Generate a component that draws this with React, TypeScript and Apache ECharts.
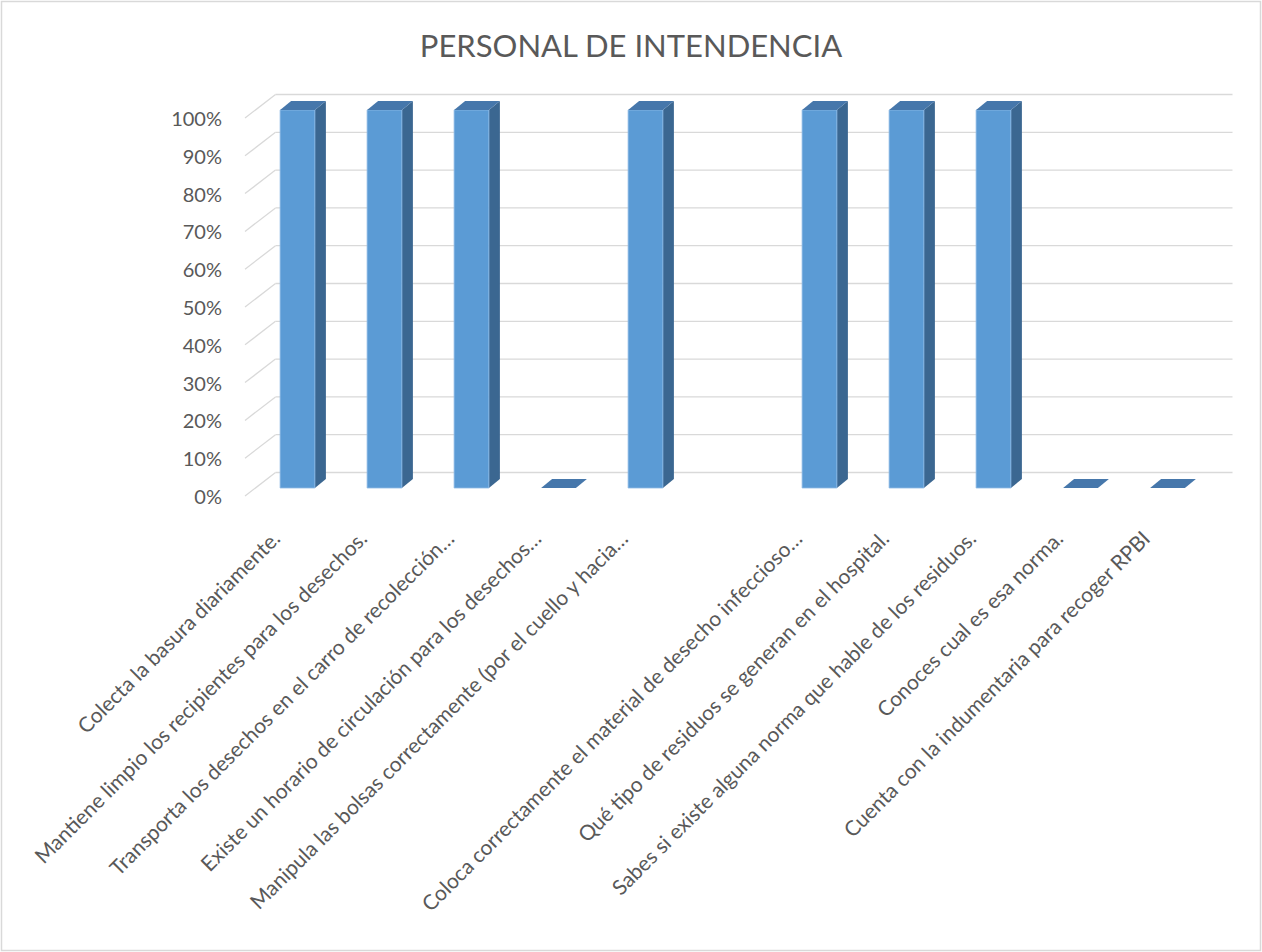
import React, { useEffect, useRef } from 'react';
import * as echarts from 'echarts';

const TITLE = 'PERSONAL DE INTENDENCIA';

const categories: string[] = [
  'Colecta la basura diariamente.',
  'Mantiene limpio los recipientes para los desechos.',
  'Transporta los desechos en el carro de recolección…',
  'Existe un horario de circulación para los desechos…',
  'Manipula las bolsas correctamente (por el cuello y hacia…',
  '',
  'Coloca correctamente el material de desecho infeccioso…',
  'Qué tipo de residuos se generan en el hospital.',
  'Sabes si existe alguna norma que hable de los residuos.',
  'Conoces cual es esa norma.',
  'Cuenta con la indumentaria para recoger RPBI',
];

const percentages: (number | null)[] = [100, 100, 100, 0, 100, null, 100, 100, 100, 0, 0];

const yTicks: number[] = [0, 10, 20, 30, 40, 50, 60, 70, 80, 90, 100];

const FONT = 'Lato, "Noto Sans", sans-serif';
const TEXT = '#595959';
const GRID = '#d9d9d9';
const FRONT = '#5b9bd5';
const SIDE = '#3b6791';
const TOP = '#4677ab';

// pseudo-3D offsets in pixels
const BACK_DX = 21.5;
const BACK_DY = -15.5;
const FRONT_DX = -9;
const FRONT_DY = 8;
const DEPTH_DX = 11;
const DEPTH_DY = -9;
const LABEL_ROT = (45 * Math.PI) / 180;

export default function App() {
  const ref = useRef<HTMLDivElement>(null);

  useEffect(() => {
    if (!ref.current) return;
    const chart = echarts.init(ref.current, null, { renderer: 'svg' });

    const option: any = {
      animation: false,
      backgroundColor: '#ffffff',
      title: {
        text: TITLE,
        left: 'center',
        top: 24,
        textStyle: { color: TEXT, fontSize: 31, fontWeight: 'normal', fontFamily: FONT },
      },
      grid: { left: 254, right: 51, top: 110, bottom: 464 },
      xAxis: {
        type: 'category',
        data: categories,
        axisLine: { show: false },
        axisTick: { show: false },
        axisLabel: { show: false },
        splitLine: { show: false },
      },
      yAxis: {
        type: 'value',
        min: 0,
        max: 100,
        interval: 10,
        axisLine: { show: false },
        axisTick: { show: false },
        axisLabel: { show: false },
        splitLine: { show: false },
      },
      graphic: [
        {
          type: 'rect',
          silent: true,
          shape: { x: 1.5, y: 1.5, width: 1259, height: 949 },
          style: { fill: 'none', stroke: GRID, lineWidth: 1.5 },
        },
      ],
      series: [
        {
          type: 'custom',
          name: 'walls',
          z: 1,
          data: yTicks.map((v) => [0, v]),
          renderItem: (params: any, api: any) => {
            const cs = params.coordSys;
            const v = api.value(1);
            const y = api.coord([0, v])[1];
            const bl = cs.x + BACK_DX;
            const br = cs.x + cs.width + BACK_DX;
            const by = y + BACK_DY;
            return {
              type: 'group',
              children: [
                {
                  type: 'line',
                  shape: { x1: bl, y1: by, x2: br, y2: by },
                  style: { stroke: GRID, lineWidth: 1.3 },
                },
                {
                  type: 'line',
                  shape: { x1: bl, y1: by, x2: cs.x + FRONT_DX, y2: y + FRONT_DY },
                  style: { stroke: GRID, lineWidth: 1.3 },
                },
                {
                  type: 'text',
                  x: cs.x - 32,
                  y: y + FRONT_DY,
                  style: {
                    text: v + '%',
                    fill: TEXT,
                    fontSize: 20,
                    fontFamily: FONT,
                    align: 'right',
                    verticalAlign: 'middle',
                  },
                },
              ],
            };
          },
        },
        {
          type: 'custom',
          name: 'PERSONAL DE INTENDENCIA',
          z: 2,
          data: percentages
            .map((v, i) => [i, v])
            .filter((d) => d[1] !== null),
          renderItem: (params: any, api: any) => {
            const i = api.value(0);
            const v = api.value(1);
            const top = api.coord([i, v]);
            const cx = top[0];
            const ty = top[1];
            const by = api.coord([i, 0])[1];
            const bw = api.size([1, 0])[0] * 0.4;
            const l = cx - bw / 2;
            const r = cx + bw / 2;
            const children: any[] = [];
            if (by - ty > 0.5) {
              children.push({
                type: 'polygon',
                shape: {
                  points: [
                    [r, ty],
                    [r + DEPTH_DX, ty + DEPTH_DY],
                    [r + DEPTH_DX, by + DEPTH_DY],
                    [r, by],
                  ],
                },
                style: { fill: SIDE },
              });
              children.push({
                type: 'rect',
                shape: { x: l, y: ty, width: bw, height: by - ty },
                style: { fill: FRONT, stroke: '#8fbbe6', lineWidth: 0.8 },
              });
            }
            children.push({
              type: 'polygon',
              shape: {
                points: [
                  [l, ty],
                  [l + DEPTH_DX, ty + DEPTH_DY],
                  [r + DEPTH_DX, ty + DEPTH_DY],
                  [r, ty],
                ],
              },
              style: { fill: TOP },
            });
            return { type: 'group', children };
          },
        },
        {
          type: 'custom',
          name: 'labels',
          z: 3,
          data: categories.map((c, i) => [i, 0]),
          renderItem: (params: any, api: any) => {
            const i = api.value(0);
            const p = api.coord([i, 0]);
            return {
              type: 'text',
              x: p[0] - 22,
              y: p[1] + 46,
              rotation: LABEL_ROT,
              style: {
                text: categories[i],
                fill: TEXT,
                fontSize: 21,
                fontFamily: FONT,
                align: 'right',
                verticalAlign: 'middle',
              },
            };
          },
        },
      ],
    };

    chart.setOption(option);
    return () => {
      chart.dispose();
    };
  }, []);

  return (
    <div
      ref={ref}
      style={{ position: 'fixed', left: 0, top: 0, width: 1262, height: 952 }}
    />
  );
}
